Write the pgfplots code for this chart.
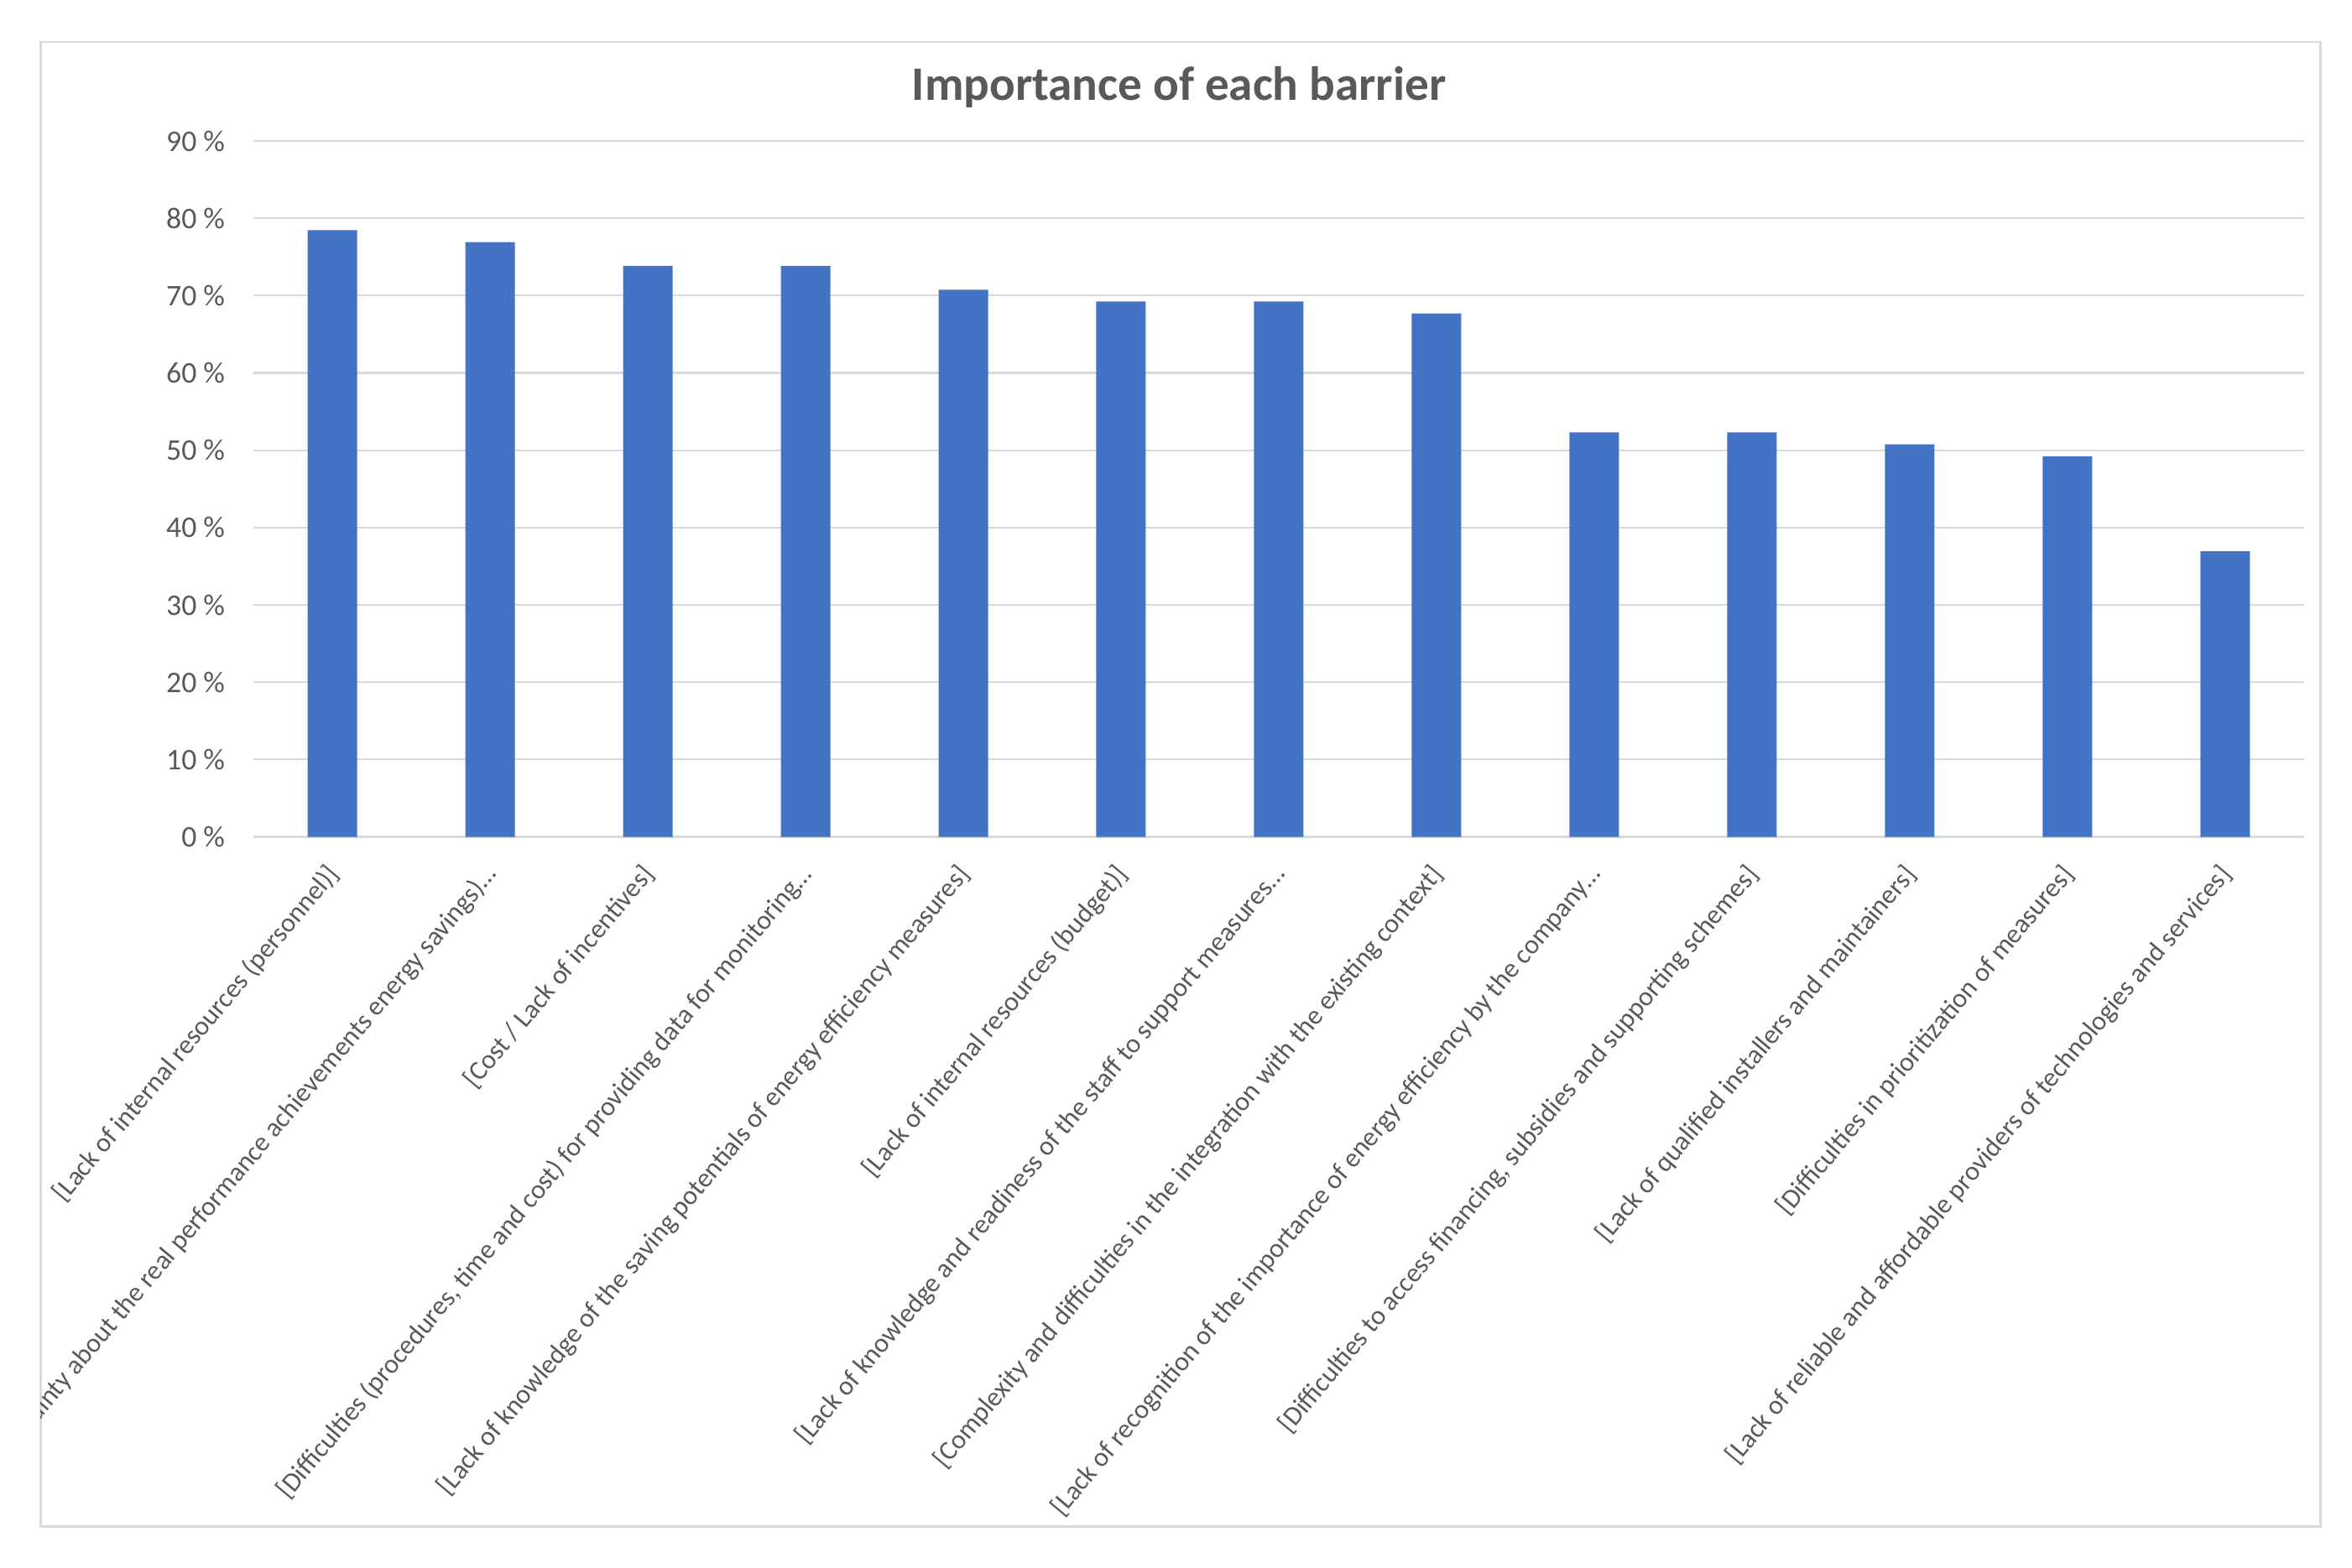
\documentclass[border=0pt]{standalone}
\usepackage{pgfplots}
\pgfplotsset{compat=1.18}
\usepackage{fontspec}
\setmainfont{Carlito}
\definecolor{barblue}{HTML}{4472C4}
\definecolor{txtgray}{HTML}{595959}
\definecolor{gridgray}{HTML}{D9D9D9}
\begin{document}
\begin{tikzpicture}
  \useasboundingbox (0,0) rectangle (784pt,522.5pt);
  % chart frame
  \draw[gridgray, line width=0.8pt] (13.5pt,13.5pt) rectangle (773.5pt,508.5pt);
  \clip (13.5pt,13.5pt) rectangle (773.5pt,508.5pt);

  % title
  \node[text=txtgray, font=\fontsize{16}{19}\selectfont\bfseries] at (393pt,493.5pt) {Importance of each barrier};

  \begin{axis}[
      scale only axis,
      width=683.5pt, height=232pt,
      at={(84.5pt,243.5pt)}, anchor=south west,
      xmin=-0.5, xmax=12.5,
      ymin=0, ymax=90,
      xtick={0,...,12},
      xticklabels={
        {[Lack of internal resources (personnel)]},
        {[Uncertainty about the real performance achievements energy savings)…},
        {[Cost / Lack of incentives]},
        {[Difficulties (procedures, time and cost) for providing data for monitoring…},
        {[Lack of knowledge of the saving potentials of energy efficiency measures]},
        {[Lack of internal resources (budget)]},
        {[Lack of knowledge and readiness of the staff to support measures…},
        {[Complexity and difficulties in the integration with the existing context]},
        {[Lack of recognition of the importance of energy efficiency by the company…},
        {[Difficulties to access financing, subsidies and supporting schemes]},
        {[Lack of qualified installers and maintainers]},
        {[Difficulties in prioritization of measures]},
        {[Lack of reliable and affordable providers of technologies and services]}
      },
      ytick={0,10,...,90},
      yticklabels={0 \%,10 \%,20 \%,30 \%,40 \%,50 \%,60 \%,70 \%,80 \%,90 \%},
      ymajorgrids,
      grid style={gridgray, line width=0.6pt},
      axis line style={draw=none},
      major tick length=0pt,
      tick label style={text=txtgray},
      yticklabel style={font=\fontsize{10}{12}\selectfont, xshift=-6pt},
      xticklabel style={font=\fontsize{9}{11}\selectfont, xshift=-3pt, yshift=-3.5pt, rotate=50, anchor=north east},
      clip=false,
    ]
    \addplot[ybar, fill=barblue, draw=none, bar width=16.5pt] coordinates {
      (0,78.46) (1,76.92) (2,73.85) (3,73.85) (4,70.77) (5,69.23) (6,69.23)
      (7,67.69) (8,52.31) (9,52.31) (10,50.77) (11,49.23) (12,36.92)
    };
  \end{axis}
\end{tikzpicture}
\end{document}
